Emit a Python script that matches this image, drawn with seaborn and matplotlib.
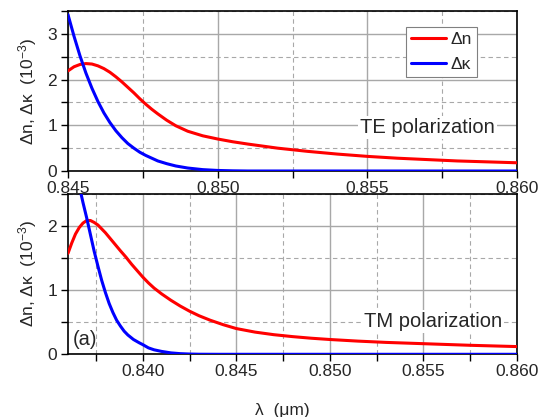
import numpy as np
import pandas as pd
import matplotlib
matplotlib.use('Agg')
import matplotlib.pyplot as plt
import seaborn as sns
from matplotlib.ticker import MultipleLocator, FormatStrFormatter

# ---------------- data ----------------
te_wl_n = [0.8450, 0.8452, 0.8454, 0.8456, 0.8458, 0.8460, 0.8462, 0.8464, 0.8466,
           0.8468, 0.8470, 0.8472, 0.8474, 0.8476, 0.8478, 0.8480, 0.8483, 0.8486,
           0.8490, 0.8495, 0.8500, 0.8505, 0.8510, 0.8520, 0.8530, 0.8540, 0.8550,
           0.8560, 0.8570, 0.8580, 0.8590, 0.8600]
te_dn = [2.19, 2.28, 2.33, 2.35, 2.34, 2.30, 2.24, 2.16, 2.06,
         1.95, 1.83, 1.71, 1.58, 1.46, 1.35, 1.25, 1.11, 0.99,
         0.87, 0.77, 0.70, 0.64, 0.59, 0.50, 0.43, 0.37, 0.32,
         0.28, 0.25, 0.22, 0.20, 0.18]
te_wl_k = [0.8450, 0.8452, 0.8454, 0.8456, 0.8458, 0.8460, 0.8462, 0.8464, 0.8466,
           0.8468, 0.8470, 0.8472, 0.8474, 0.8476, 0.8478, 0.8480, 0.8483, 0.8486,
           0.8490, 0.8495, 0.8500, 0.8505, 0.8510, 0.8600]
te_dk = [3.42, 2.95, 2.52, 2.14, 1.81, 1.52, 1.27, 1.06, 0.88,
         0.73, 0.60, 0.50, 0.41, 0.34, 0.28, 0.22, 0.16, 0.11,
         0.065, 0.03, 0.012, 0.004, 0.00, 0.00]

tm_wl_n = [0.8360, 0.8362, 0.8364, 0.8366, 0.8368, 0.8370, 0.8372, 0.8374, 0.8376,
           0.8378, 0.8380, 0.8382, 0.8384, 0.8386, 0.8388, 0.8391, 0.8394, 0.8397,
           0.8400, 0.8403, 0.8406, 0.8410, 0.8415, 0.8420, 0.8425, 0.8430, 0.8436,
           0.8443, 0.8450, 0.8460, 0.8470, 0.8480, 0.8490, 0.8500, 0.8515, 0.8530,
           0.8550, 0.8575, 0.8600]
tm_dn = [1.57, 1.73, 1.87, 1.97, 2.04, 2.08, 2.08, 2.05, 2.01,
         1.95, 1.89, 1.82, 1.75, 1.68, 1.61, 1.51, 1.40, 1.30,
         1.20, 1.11, 1.03, 0.94, 0.84, 0.75, 0.67, 0.60, 0.53,
         0.46, 0.40, 0.345, 0.305, 0.275, 0.25, 0.23, 0.205, 0.185,
         0.165, 0.14, 0.12]
tm_wl_k = [0.8360, 0.8363, 0.8366, 0.8368, 0.8370, 0.8372, 0.8374, 0.8376, 0.8378,
           0.8380, 0.8382, 0.8384, 0.8386, 0.8388, 0.8390, 0.8392, 0.8395, 0.8398,
           0.8400, 0.8403, 0.8406, 0.8410, 0.8415, 0.8420, 0.8425, 0.8430, 0.8440,
           0.8600]
tm_dk = [3.50, 3.05, 2.62, 2.36, 2.12, 1.86, 1.60, 1.37, 1.15,
         0.96, 0.79, 0.65, 0.53, 0.44, 0.36, 0.30, 0.23, 0.18,
         0.15, 0.10, 0.07, 0.045, 0.022, 0.01, 0.004, 0.001, 0.00,
         0.00]

series_names = ['Δn', 'Δκ']
series_colors = ['#ff0000', '#0000ff']
panel_labels = ['TE polarization', 'TM polarization']

# ---------------- style ----------------
sns.set_style('ticks')
plt.rcParams['font.family'] = ['Liberation Sans', 'DejaVu Sans']
plt.rcParams['mathtext.fontset'] = 'custom'
plt.rcParams['mathtext.rm'] = 'Liberation Sans'
plt.rcParams['mathtext.it'] = 'Liberation Sans:italic'
plt.rcParams['axes.unicode_minus'] = True

fig = plt.figure(figsize=(5.42, 4.17), dpi=100)
ax_top = fig.add_axes([68/542, 1 - 171/417, 449/542, 160/417])
ax_bot = fig.add_axes([68/542, 1 - 354.3/417, 449/542, 160.8/417])

palette = dict(zip(series_names, series_colors))


def make_df(wl_n, dn, wl_k, dk):
    d1 = pd.DataFrame({'wl': wl_n, 'val': dn, 'q': series_names[0]})
    d2 = pd.DataFrame({'wl': wl_k, 'val': dk, 'q': series_names[1]})
    return pd.concat([d1, d2], ignore_index=True)


def style_axes(ax, xlim, ylim, xmajor):
    ax.set_xlim(*xlim)
    ax.set_ylim(*ylim)
    ax.xaxis.set_major_locator(MultipleLocator(xmajor))
    ax.xaxis.set_minor_locator(MultipleLocator(xmajor / 2))
    ax.yaxis.set_major_locator(MultipleLocator(1))
    ax.yaxis.set_minor_locator(MultipleLocator(0.5))
    ax.xaxis.set_major_formatter(FormatStrFormatter('%.3f'))
    ax.yaxis.set_major_formatter(FormatStrFormatter('%d'))
    ax.grid(which='major', color='#a8a8a8', linestyle='-', linewidth=1.0, zorder=0)
    ax.grid(which='minor', color='#a8a8a8', linestyle=(0, (4, 3)), linewidth=0.8, zorder=0)
    ax.set_axisbelow(True)
    ax.tick_params(which='both', direction='out', length=5, width=1.0, color='black',
                   labelsize=12.5, pad=2, top=False, right=False)
    ax.tick_params(axis='y', which='major', pad=3)
    for s in ax.spines.values():
        s.set_visible(True)
        s.set_linewidth(1.2)
        s.set_color('black')
    ax.set_ylabel('Δn, Δκ  (10$^{-3}$)', fontsize=12.5, labelpad=6)
    ax.set_xlabel('')


df_te = make_df(te_wl_n, te_dn, te_wl_k, te_dk)
df_tm = make_df(tm_wl_n, tm_dn, tm_wl_k, tm_dk)

sns.lineplot(data=df_te, x='wl', y='val', hue='q', palette=palette, estimator=None,
             sort=False, linewidth=2.2, ax=ax_top, zorder=3)
sns.lineplot(data=df_tm, x='wl', y='val', hue='q', palette=palette, estimator=None,
             sort=False, linewidth=2.2, ax=ax_bot, zorder=3, legend=False)

style_axes(ax_top, (0.845, 0.860), (0, 3.5), 0.005)
style_axes(ax_bot, (0.836, 0.860), (0, 2.5), 0.005)

# legend in top panel
handles, labels = ax_top.get_legend_handles_labels()
leg = ax_top.legend(handles, labels, loc='upper right', bbox_to_anchor=(0.911, 0.90),
                    fontsize=12.5, frameon=True, fancybox=False, framealpha=1,
                    edgecolor='#808080', handlelength=2.0, handletextpad=0.25,
                    borderpad=0.3, labelspacing=0.55, borderaxespad=0)
leg.get_frame().set_linewidth(0.8)

# panel annotations
bbox = dict(facecolor='white', edgecolor='none', pad=1.5)
ax_top.text(0.85927, 0.95, panel_labels[0], ha='right', va='center', fontsize=14.5,
            bbox=bbox, zorder=4)
ax_bot.text(0.85918, 0.51, panel_labels[1], ha='right', va='center', fontsize=14.5,
            bbox=bbox, zorder=4)
ax_bot.text(0.01, 0.09, '(a)', transform=ax_bot.transAxes, ha='left', va='center',
            fontsize=14.5, zorder=4)

fig.text(282/542, 1 - 410/417, 'λ  (μm)', ha='center', va='center', fontsize=12.5)

fig.savefig('out.png', dpi=100)
